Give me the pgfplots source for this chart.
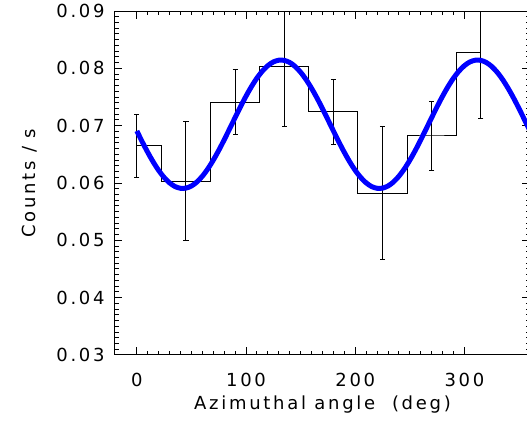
\documentclass[border=0pt]{standalone}
\usepackage{pgfplots}
\pgfplotsset{compat=1.18}
\usepackage{fontspec}
\setmainfont[LetterSpace=15]{DejaVu Sans}
\begin{document}
\begin{tikzpicture}
\begin{axis}[
  at={(0,0)}, anchor=south west,
  scale only axis, width=207.5pt, height=172pt,
  xmin=-20, xmax=360, ymin=0.03, ymax=0.09,
  xtick={0,100,200,300}, ytick={0.03,0.04,0.05,0.06,0.07,0.08,0.09},
  minor x tick num=9, minor y tick num=9,
  major tick length=3.75pt, minor tick length=1.8pt,
  tick style={black, line width=0.5pt},
  axis line style={black, line width=0.5pt},
  tick align=inside,
  font=\fontsize{9}{10}\selectfont,
  /pgf/number format/assume math mode=true,
  /pgf/number format/fixed, /pgf/number format/fixed zerofill,
  /pgf/number format/precision=2,
  xticklabel={\pgfmathprintnumber[fixed,precision=0]{\tick}},
  xticklabel style={anchor=center, yshift=-12.5pt, inner sep=0pt},
  yticklabel style={anchor=east, xshift=-5pt, inner sep=0pt},
  scaled y ticks=false,
  xlabel={Azimuthal angle\ \ (deg)},
  ylabel={Counts / s},
  every axis x label/.style={at={(axis description cs:0.5,0)}, anchor=center, yshift=-25pt},
  every axis y label/.style={at={(axis description cs:-0.205,0.5)}, anchor=center, rotate=90},
]
% histogram (IDL psym=10 style)
\addplot[const plot mark mid, black, line width=0.5pt, mark=none] coordinates {
  (0,0.0665) (45,0.0603) (90,0.0741) (135,0.0804) (180,0.0724) (225,0.0582) (270,0.0682) (315,0.0827)
};
% error bars
\addplot[draw=none, mark=none,
  error bars/.cd, y dir=both, y explicit,
  error bar style={line width=0.5pt, draw=black},
  error mark options={rotate=90, mark size=1.3pt, line width=0.5pt, draw=black}]
  coordinates {
  (0,0.0665) +- (0,0.0055)
  (45,0.0603) +- (0,0.0104)
  (90,0.0741) +- (0,0.0057)
  (135,0.0804) +- (0,0.0105)
  (180,0.0724) +- (0,0.0057)
  (225,0.0582) +- (0,0.0116)
  (270,0.0682) +- (0,0.0060)
  (315,0.0827) +- (0,0.0115)
};
% fitted modulation curve
\addplot[blue, line width=2.5pt, mark=none, smooth] coordinates {
  (0,0.06908) (5,0.06716) (10,0.06534) (15,0.06367) (20,0.06219) (25,0.06097)
  (30,0.06002) (35,0.05938) (40,0.05908) (45,0.05911) (50,0.05948) (55,0.06018)
  (60,0.06119) (65,0.06247) (70,0.06399) (75,0.06569) (80,0.06754) (85,0.06947)
  (90,0.07142) (95,0.07334) (100,0.07516) (105,0.07683) (110,0.07831) (115,0.07953)
  (120,0.08048) (125,0.08112) (130,0.08142) (135,0.08139) (140,0.08102) (145,0.08032)
  (150,0.07931) (155,0.07803) (160,0.07651) (165,0.07481) (170,0.07296) (175,0.07103)
  (180,0.06908) (185,0.06716) (190,0.06534) (195,0.06367) (200,0.06219) (205,0.06097)
  (210,0.06002) (215,0.05938) (220,0.05908) (225,0.05911) (230,0.05948) (235,0.06018)
  (240,0.06119) (245,0.06247) (250,0.06399) (255,0.06569) (260,0.06754) (265,0.06947)
  (270,0.07142) (275,0.07334) (280,0.07516) (285,0.07683) (290,0.07831) (295,0.07953)
  (300,0.08048) (305,0.08112) (310,0.08142) (315,0.08139) (320,0.08102) (325,0.08032)
  (330,0.07931) (335,0.07803) (340,0.07651) (345,0.07481) (350,0.07296) (355,0.07103)
  (360,0.06908)
};
\end{axis}
\pgfresetboundingbox
\path[use as bounding box] (-57.5pt,-34pt) rectangle (206pt,177.5pt);
\end{tikzpicture}
\end{document}
